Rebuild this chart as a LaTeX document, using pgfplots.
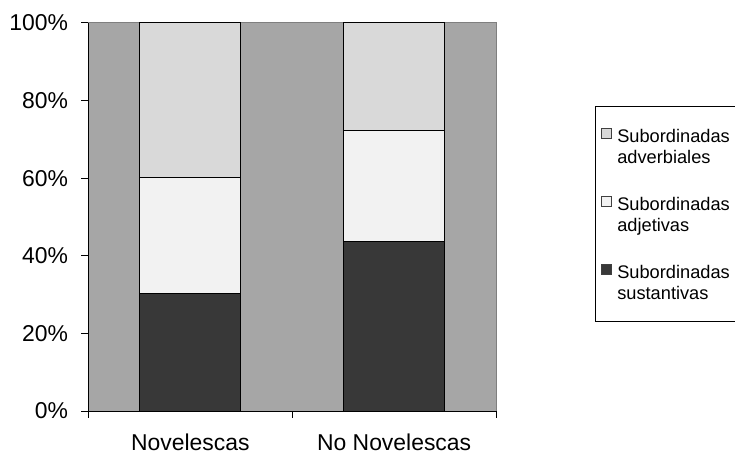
\documentclass[border=0pt]{standalone}
\usepackage{pgfplots}
\pgfplotsset{compat=1.18}
\usepackage{fontspec}
\setmainfont{Liberation Sans}
\definecolor{bggray}{HTML}{A6A6A6}
\definecolor{framegray}{HTML}{7F7F7F}
\definecolor{advcol}{HTML}{D9D9D9}
\definecolor{adjcol}{HTML}{F2F2F2}
\definecolor{suscol}{HTML}{383838}
\begin{document}
\begin{tikzpicture}
\clip (-88.5bp,-44bp) rectangle (646.5bp,411bp);
\begin{axis}[
  scale only axis, width=407.5bp, height=388bp,
  xmin=-0.5, xmax=1.5, ymin=0, ymax=100,
  ybar stacked, bar width=101bp,
  axis background/.style={fill=bggray, draw=framegray, line width=1bp},
  axis x line*=bottom, axis y line*=left,
  axis line style={black, line width=1bp},
  tick align=outside, major tick length=7bp,
  tick style={black, line width=1bp},
  xtick={-0.5,0.5,1.5}, xticklabels={},
  extra x ticks={0,1},
  extra x tick labels={Novelescas,No Novelescas},
  extra x tick style={major tick length=0pt},
  ytick={0,20,40,60,80,100},
  yticklabels={0\%,20\%,40\%,60\%,80\%,100\%},
  ticklabel style={font=\fontsize{23}{27}\selectfont},
  yticklabel style={xshift=-10bp},
  xticklabel style={yshift=-19bp},
  reverse legend,
  legend style={at={(1,1)}, anchor=north west, xshift=99bp, yshift=-83bp,
    draw=black, line width=1bp, font=\fontsize{18.3}{21}\selectfont,
    cells={anchor=west, align=left}, row sep=27bp, column sep=4bp,
    inner xsep=5bp, inner ysep=19bp},
  legend image code/.code={\draw[#1,draw=black!75,line width=0.8bp] (0bp,7.85bp) rectangle (10bp,17.85bp);},
]
\addplot[fill=suscol, draw=black, line width=1bp] coordinates {(0,30.2) (1,43.7)};
\addlegendentry{Subordinadas\strut\\sustantivas\strut}
\addplot[fill=adjcol, draw=black, line width=1bp] coordinates {(0,30.1) (1,28.5)};
\addlegendentry{Subordinadas\strut\\adjetivas\strut}
\addplot[fill=advcol, draw=black, line width=1bp] coordinates {(0,39.7) (1,27.8)};
\addlegendentry{Subordinadas\strut\\adverbiales\strut}
\end{axis}
\end{tikzpicture}
\end{document}
